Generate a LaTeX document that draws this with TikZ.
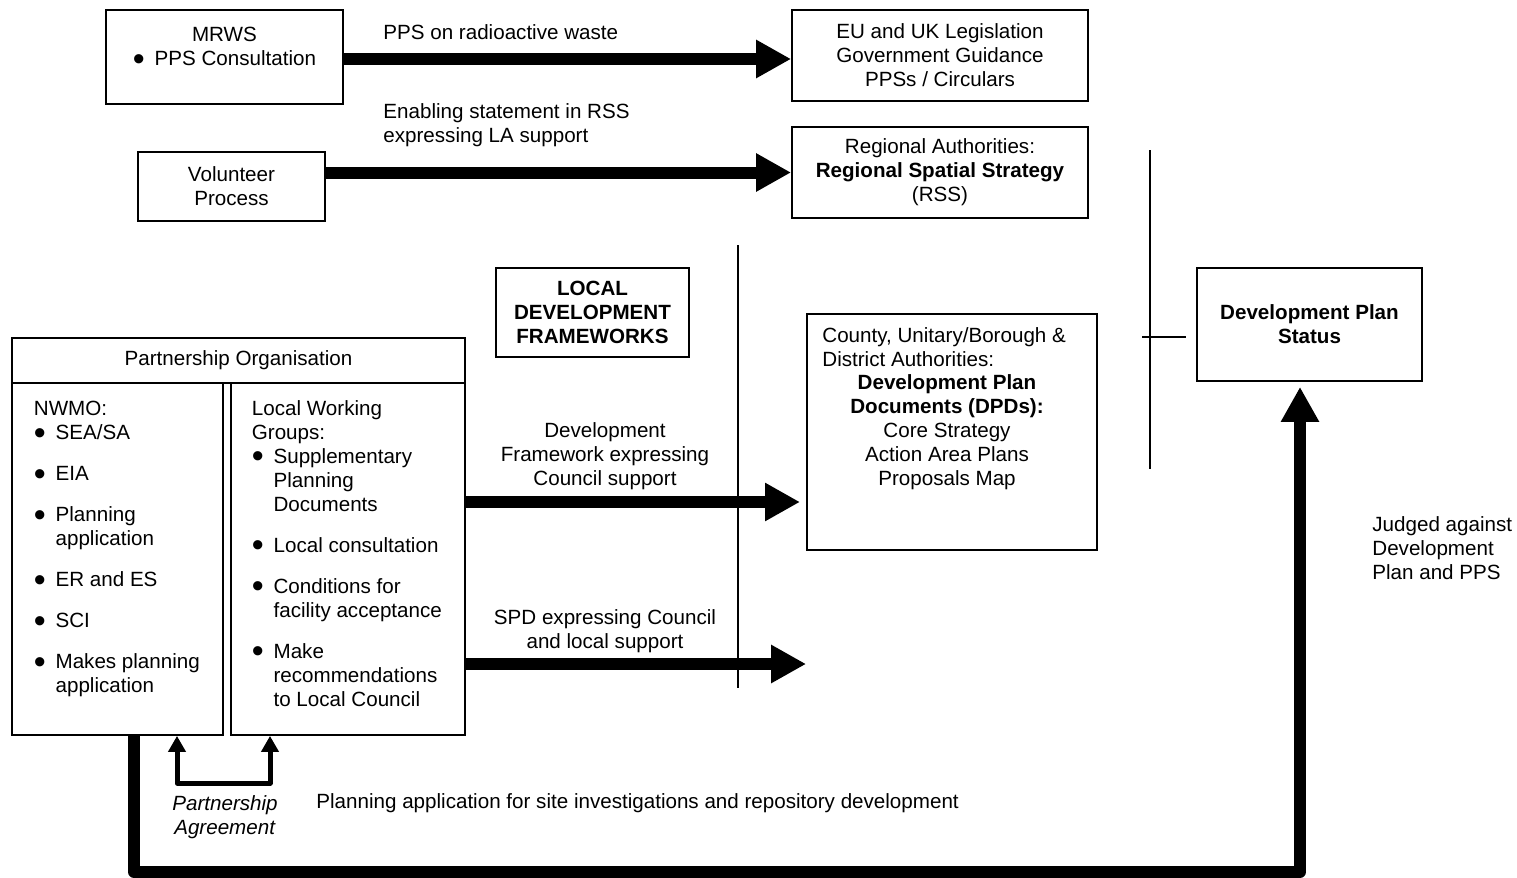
\documentclass[tikz,border=0pt]{standalone}
\usepackage{fontspec}
\setmainfont{Liberation Sans}
\usetikzlibrary{arrows.meta}
\newcommand{\bitem}{\makebox[10.85pt][l]{\raisebox{-2.2pt}{\fontsize{17}{12}\selectfont\textbullet}}}
\newcommand{\bcont}{\hspace*{10.85pt}}

\begin{document}
\begin{tikzpicture}[x=0.5pt,y=-0.5pt,
  font=\fontsize{10.3}{12}\selectfont,
  box/.style={draw,line width=0.9pt,inner sep=0pt,align=center},
  txt/.style={inner sep=0pt,align=center},
  rule/.style={line width=0.8pt},
  bigarrow/.style={line width=6pt,line join=round,-{Triangle[length=17.5pt,width=18pt]}},
  pagree/.style={line width=2.5pt,line join=round,{Triangle[length=8pt,width=8.5pt]}-{Triangle[length=8pt,width=8.5pt]}}]
\useasboundingbox (0,0) rectangle (1517,878);

\node [box,minimum width=118.5pt,minimum height=47pt] (mrws) at (224.5,57) {};
\node [txt,anchor=north] (mrwstext) at (224.5,27) {MRWS\\\bitem PPS Consultation};
\node [box,minimum width=148pt,minimum height=45.5pt] (eu) at (940,55.5) {EU and UK Legislation\\Government Guidance\\PPSs / Circulars};
\node [box,minimum width=148pt,minimum height=45.5pt] (rss) at (940,172.5) {Regional Authorities:\\\textbf{Regional Spatial Strategy}\\(RSS)};
\node [box,minimum width=93.5pt,minimum height=34.5pt] (vol) at (231.5,186.5) {Volunteer\\Process};
\node [box,minimum width=96.5pt,minimum height=44.5pt] (ldf) at (592.5,312.5) {\textbf{LOCAL}\\\textbf{DEVELOPMENT}\\\textbf{FRAMEWORKS}};
\node [box,minimum width=145pt,minimum height=118pt] (county) at (952,432) {};
\node [txt,anchor=north west,align=left] (countyhead) at (822,327) {County, Unitary/Borough \&\\District Authorities:};
\node [txt,anchor=north] (countybody) at (947,374) {\textbf{Development Plan}\\\textbf{Documents (DPDs):}\\Core Strategy\\Action Area Plans\\Proposals Map};
\node [box,minimum width=112.5pt,minimum height=56.5pt] (status) at (1309.5,324.5) {\textbf{Development Plan}\\\textbf{Status}};

\node [box,minimum width=226.5pt,minimum height=22.5pt] (po) at (238.5,360.5) {Partnership Organisation};
\node [box,minimum width=105.5pt,minimum height=176pt] (nwmo) at (117.5,559) {};
\node [box,minimum width=117pt,minimum height=176pt] (lwg) at (348,559) {};
\node [txt,anchor=north west,align=left] (nwmotext) at (33.5,401) {NWMO:\\%
\bitem SEA/SA\\[8.5pt]%
\bitem EIA\\[8.5pt]%
\bitem Planning\\\bcont application\\[8.5pt]%
\bitem ER and ES\\[8.5pt]%
\bitem SCI\\[8.5pt]%
\bitem Makes planning\\\bcont application};
\node [txt,anchor=north west,align=left] (lwgtext) at (251.5,400) {Local Working\\Groups:\\%
\bitem Supplementary\\\bcont Planning\\\bcont Documents\\[8.5pt]%
\bitem Local consultation\\[8.5pt]%
\bitem Conditions for\\\bcont facility acceptance\\[8.5pt]%
\bitem Make\\\bcont recommendations\\\bcont to Local Council};

\draw [rule] (738,245) -- (738,688);
\draw [rule] (1150,150) -- (1150,469);
\draw [rule] (1142,337) -- (1186,337);

\coordinate (dftip) at (800,502);
\draw [bigarrow] (mrws.east |- 0,59) -- (eu.west |- 0,59);
\draw [bigarrow] (vol.east |- rss.west) -- (rss.west);
\draw [bigarrow] (lwg.east |- dftip) -- (dftip);
\draw [bigarrow] (lwg.east |- 0,664) -- (county.west |- 0,664);
\draw [bigarrow] (nwmo.south -| 134,0) -- (134,872) -| ([xshift=-4.75pt,yshift=-2.5pt]status.south);
\draw [pagree] (nwmo.south -| 177,0) -- (177,783) -- (270,783) -- (lwg.south -| 270,0);

\node [txt,anchor=west] (ppslabel) at (383,32) {PPS on radioactive waste};
\node [txt,anchor=north west,align=left] (enablabel) at (383,103) {Enabling statement in RSS\\expressing LA support};
\node [txt,anchor=north] (dflabel) at (605,422) {Development\\Framework expressing\\Council support};
\node [txt,anchor=north] (spdlabel) at (605,609) {SPD expressing Council\\and local support};
\node [txt,anchor=north] (palabel) at (225,795) {\textit{Partnership}\\\textit{Agreement}};
\node [txt,anchor=west] (planlabel) at (316,803) {Planning application for site investigations and repository development};
\node [txt,anchor=north west,align=left] (judged) at (1372,516) {Judged against\\Development\\Plan and PPS};
\end{tikzpicture}
\end{document}
